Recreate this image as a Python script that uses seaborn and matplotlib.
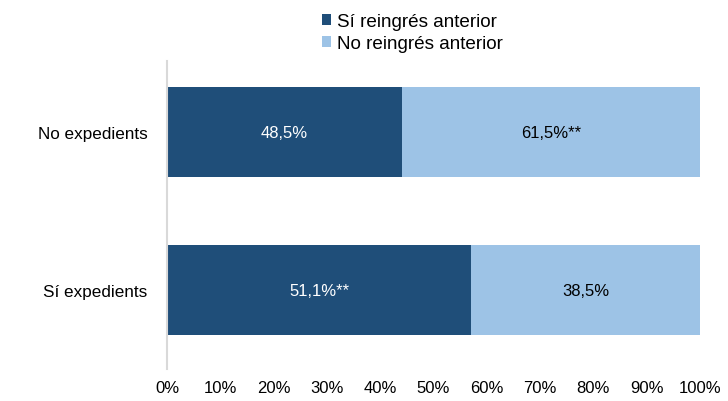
import matplotlib
matplotlib.use('Agg')
import matplotlib.pyplot as plt
import seaborn as sns
import pandas as pd
from matplotlib.patches import Patch

# Data
categories = ['No expedients', 'Sí expedients']
si_reingres = [48.5, 51.1]
no_reingres = [61.5, 38.5]
si_labels = ['48,5%', '51,1%**']
no_labels = ['61,5%**', '38,5%']
series_names = ['Sí reingrés anterior', 'No reingrés anterior']
xticks = [0, 0.1, 0.2, 0.3, 0.4, 0.5, 0.6, 0.7, 0.8, 0.9, 1.0]

dark = '#1F4E79'
light = '#9DC3E6'

sns.set_style('white')
plt.rcParams['font.family'] = ['Liberation Sans', 'DejaVu Sans']
plt.rcParams['text.color'] = 'black'
plt.rcParams['xtick.color'] = 'black'
plt.rcParams['ytick.color'] = 'black'

# normalise each row to 100%
totals = [a + b for a, b in zip(si_reingres, no_reingres)]
df = pd.DataFrame({
    'cat': categories,
    'si': [a / t for a, t in zip(si_reingres, totals)],
    'total': [1.0 for _ in totals],
})

fig = plt.figure(figsize=(7.28, 4.02), dpi=100)
ax = fig.add_axes([0.2294, 0.0796, 0.7321, 0.7662])

sns.barplot(data=df, x='total', y='cat', orient='h', color=light, width=0.57,
            saturation=1, linewidth=0, ax=ax)
sns.barplot(data=df, x='si', y='cat', orient='h', color=dark, width=0.57,
            saturation=1, linewidth=0, ax=ax)

for i, row in df.iterrows():
    ax.text(row['si'] / 2, i, si_labels[i], color='white', ha='center', va='center', fontsize=12)
    ax.text(row['si'] + (1 - row['si']) / 2, i, no_labels[i], color='black', ha='center',
            va='center', fontsize=12)

ax.set_xlim(0, 1)
ax.set_ylim(1.5, -0.45)
ax.set_xticks(xticks)
ax.set_xticklabels([f'{int(round(t * 100))}%' for t in xticks], fontsize=12)
ax.tick_params(axis='y', labelsize=12.3, length=0, pad=14)
ax.tick_params(axis='x', length=0, pad=8)
ax.set_xlabel('')
ax.set_ylabel('')
for s in ['top', 'right', 'bottom']:
    ax.spines[s].set_visible(False)
ax.spines['left'].set_color('#D9D9D9')
ax.spines['left'].set_linewidth(1.5)

handles = [Patch(facecolor=dark, edgecolor='none'), Patch(facecolor=light, edgecolor='none')]
fig.legend(handles, series_names, loc='upper center', bbox_to_anchor=(0.566, 1.0), frameon=False,
           fontsize=13.6, handlelength=0.5, handleheight=0.5, handletextpad=0.3,
           labelspacing=0.25, borderpad=0.25)

plt.savefig('out.png', dpi=100)
